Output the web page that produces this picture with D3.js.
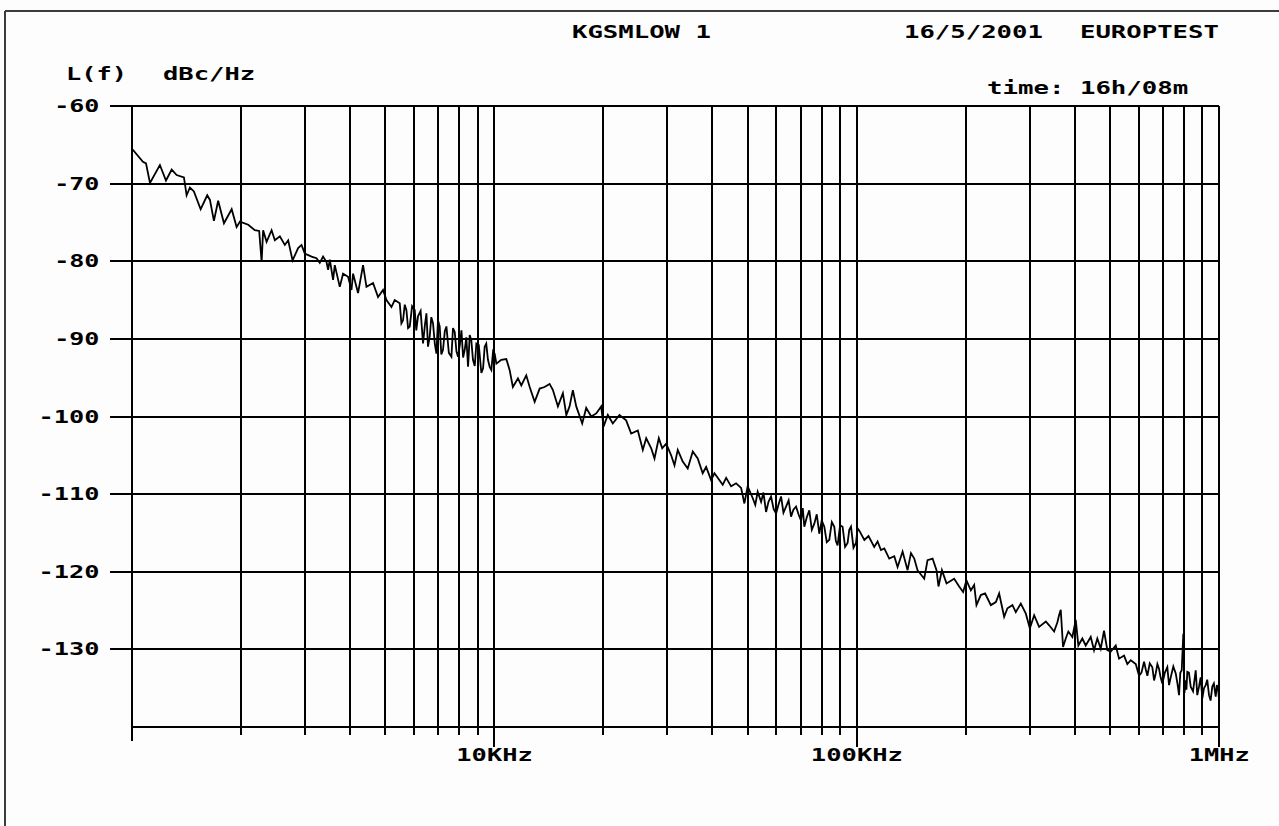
<!DOCTYPE html>
<html>
<head>
<meta charset="utf-8">
<script src="https://cdn.jsdelivr.net/npm/d3@7"></script>
<style>
  html, body { margin: 0; padding: 0; background: #fdfdfd; }
  svg { display: block; }
  text { font-family: "DejaVu Sans Mono", "Liberation Mono", monospace; font-weight: bold; fill: #000; }
</style>
</head>
<body>
<svg id="chart" width="1279" height="826"></svg>
<script>
// ---- Data ----
const freqKHz = [
  1.004, 1.072, 1.093, 1.121, 1.194, 1.241, 1.287, 1.328, 1.391, 1.415,
  1.445, 1.482, 1.547, 1.613, 1.641, 1.683, 1.729, 1.794, 1.884, 1.944,
  1.985, 2.093, 2.183, 2.244, 2.279, 2.301, 2.352, 2.428, 2.479, 2.559,
  2.641, 2.698, 2.774, 2.874, 2.937, 2.999, 3.130, 3.230, 3.298, 3.368,
  3.442, 3.477, 3.515, 3.589, 3.628, 3.745, 3.824, 3.948, 4.034, 4.075,
  4.206, 4.342, 4.437, 4.627, 4.776, 4.930, 5.038, 5.200, 5.310,
  5.482, 5.598, 5.720, 5.842, 6.030, 6.157, 6.357, 6.495, 6.632, 6.773,
  6.921, 7.067, 7.217, 7.375, 7.613, 7.775, 7.940, 8.114, 8.285, 8.461,
  8.551, 8.730, 8.921, 9.209, 9.404, 9.603, 9.813, 10.02, 10.13, 10.45,
  10.79, 11.02, 11.25, 11.62, 11.87, 12.25, 12.52, 12.92, 13.34, 13.76,
  14.21, 14.51, 14.98, 15.46, 15.80, 16.13, 16.47, 16.83, 17.48, 17.93,
  18.51, 19.11, 19.72, 20.01, 20.57, 21.23, 22.15, 23.11, 23.86,
  24.89, 25.69, 26.25, 27.10, 27.67, 28.44, 29.06, 29.81, 30.76, 31.42,
  32.08, 33.11, 34.18, 35.29, 36.42, 37.59, 38.42, 39.66, 40.50, 41.35,
  42.69, 43.63, 45.03, 46.48, 47.98, 48.99, 50.03, 51.64, 53.31, 54.48,
  56.23, 58.04, 59.92, 61.85, 63.84, 65.90, 68.03, 70.21, 71.70, 74.01,
  76.40, 78.86, 81.41, 84.03, 86.74, 88.58, 91.44, 94.39, 96.45, 99.56,
  101.7, 105.0, 107.8, 111.8, 114.2, 116.7, 119.2, 123.0, 127.0, 129.7,
  133.9, 138.2, 141.2, 144.2, 147.2, 153.6, 156.9, 162.0, 166.1, 168.2,
  171.9, 177.0, 185.8, 191.8, 196.7, 200.9, 206.6, 211.0, 214.1, 220.1,
  226.2, 234.6, 242.2, 247.3, 255.3, 260.7, 269.1, 274.9, 283.8, 293.0,
  300.6, 308.9, 318.8, 332.7, 339.8, 350.7, 358.1, 361.9, 365.8, 371.2,
  377.6, 383.9, 393.8, 402.4, 409.1, 419.6, 428.7, 442.6, 452.0, 461.5,
  471.6, 481.6, 491.8, 502.5, 518.8, 529.8, 547.0, 558.5, 570.8, 589.2,
  601.7, 621.1, 634.3, 654.6, 669.0, 683.1, 697.6, 720.1, 735.8, 759.6,
  775.7, 789.1, 797.1, 809.3, 817.5, 835.4, 862.4, 880.7, 899.4, 919.0,
  938.5, 958.3, 979.1, 995.4
];
const levelDb = [
  -65.6, -67.2, -67.4, -69.9, -67.6, -69.6, -68.2, -68.9, -69.2, -71.5,
  -70.5, -71.0, -73.3, -71.5, -72.1, -74.8, -72.2, -75.1, -73.3, -75.6,
  -74.9, -75.3, -76.0, -76.1, -80.1, -76.0, -77.5, -76.0, -77.3, -76.8,
  -77.9, -77.3, -79.9, -78.3, -77.9, -79.0, -79.4, -79.6, -80.2, -79.4,
  -80.1, -81.1, -79.8, -82.4, -80.5, -83.3, -81.6, -82.0, -83.7, -81.6,
  -84.1, -80.5, -83.3, -82.8, -84.6, -83.7, -85.0, -85.9, -85.0,
  -85.4, -87.6, -86.3, -88.4, -86.3, -87.1, -90.6, -86.7, -89.7, -88.0,
  -91.9, -88.4, -91.4, -88.4, -92.3, -89.1, -92.3, -88.9, -91.4, -93.6,
  -89.5, -92.7, -90.6, -94.4, -91.0, -92.7, -94.0, -91.9, -93.2, -92.7,
  -92.6, -94.0, -96.2, -95.1, -96.0, -94.7, -96.2, -98.1, -96.4, -96.2,
  -95.8, -96.6, -98.7, -97.0, -99.8, -98.7, -96.6, -98.7, -100.9, -98.9,
  -100.0, -99.6, -98.7, -101.3, -99.8, -100.9, -99.8, -100.5, -102.2,
  -101.8, -104.3, -102.8, -104.1, -105.4, -102.8, -104.1, -103.5, -105.0, -106.3,
  -104.3, -105.8, -106.7, -104.5, -105.4, -107.3, -106.5, -108.2, -107.3, -107.9,
  -108.8, -107.9, -109.0, -108.6, -109.2, -111.2, -109.0, -110.5, -109.7, -111.0,
  -112.3, -110.3, -112.5, -110.3, -111.6, -112.9, -111.6, -113.4, -114.2, -112.1,
  -113.8, -115.1, -114.2, -115.9, -114.2, -116.6, -114.2, -116.3, -114.2, -116.3,
  -114.7, -115.9, -115.4, -116.8, -116.1, -117.2, -117.0, -118.3, -118.0, -119.4,
  -117.4, -119.8, -117.6, -118.3, -119.8, -120.9, -118.5, -118.3, -119.8, -121.9,
  -119.8, -121.5, -120.9, -121.9, -122.6, -121.1, -122.4, -121.7, -124.3, -123.0,
  -122.8, -124.3, -123.9, -122.8, -125.8, -124.7, -124.3, -125.2, -124.1, -125.4,
  -127.3, -125.6, -127.1, -126.4, -126.9, -127.7, -126.5, -125.6, -124.9, -129.7,
  -128.6, -127.7, -128.4, -126.2, -129.5, -128.6, -129.5, -128.4, -130.1, -128.6,
  -129.9, -127.6, -130.1, -130.3, -129.5, -131.2, -130.8, -131.9, -131.4, -131.9,
  -133.4, -131.6, -133.4, -132.3, -133.1, -132.5, -134.4, -132.3, -133.6, -133.1,
  -135.9, -132.7, -128.0, -134.0, -132.9, -134.8, -132.7, -134.8, -136.3, -134.6,
  -135.9, -134.8, -136.1, -135.3
];
// extra samples read in the dense (blackened) stretches of the trace
const denseFreqKHz = [
  5.54, 5.66, 5.78, 5.93, 6.09, 6.26, 6.43, 6.56, 6.70, 6.85,
  6.99, 7.14, 7.30, 7.49, 7.69, 7.86, 8.03, 8.20, 8.37, 8.50,
  8.64, 8.83, 9.06, 9.31, 9.50, 9.71, 9.92,
  52.5, 55.3, 57.1, 59.0, 60.9, 62.8, 64.9, 66.9, 69.1, 71.0, 72.8,
  75.2, 77.6, 80.1, 82.7, 85.4, 87.6, 90.0, 92.9, 95.4, 98.0, 100.6,
  611, 628, 644, 662, 676, 690, 709, 728, 748, 768,
  782, 803, 813, 826, 848, 871, 890, 909, 928, 948,
  968, 987, 999
];
const denseDb = [
  -88.0, -85.6, -88.6, -85.8, -88.9, -86.4, -88.3, -91.0, -87.2, -90.6,
  -87.6, -92.0, -89.0, -91.8, -88.6, -91.6, -90.8, -92.4, -89.8, -92.0,
  -90.2, -93.5, -90.8, -93.8, -90.6, -93.6, -91.6,
  -111.4, -109.8, -111.0, -111.9, -111.3, -112.4, -110.8, -112.0, -112.6, -111.8, -113.0,
  -114.6, -112.6, -113.4, -116.2, -113.6, -116.0, -114.0, -116.8, -114.6, -116.9, -114.4,
  -133.0, -132.6, -131.8, -134.0, -131.9, -133.6, -133.0, -134.6, -132.2, -134.4,
  -133.0, -135.6, -135.2, -133.0, -135.4, -135.9, -133.6, -135.0, -133.9, -136.6,
  -134.4, -134.6, -136.2
];
const yTickValues = [-60, -70, -80, -90, -100, -110, -120, -130];
const xLabelFreqs = [10000, 100000, 1000000];
const xLabelTexts = ["10KHz", "100KHz", "1MHz"];
const titleText = "KGSMLOW 1";
const dateText = "16/5/2001";
const siteText = "EUROPTEST";
const timeText = "time: 16h/08m";
const yUnitLeft = "L(f)";
const yUnitRight = "dBc/Hz";

// ---- Layout ----
const svg = d3.select("#chart");
const pLeft = 132, pRight = 1219, pTop = 106, pBottom = 727;
const x = d3.scaleLog().domain([1000, 1000000]).range([pLeft, pRight]);
const y = d3.scaleLinear().domain([-140, -60]).range([pBottom, pTop]);
const CHAR = 15.6;

function label(str, xStart, yBase) {
  return svg.append("text")
    .attr("x", xStart).attr("y", yBase)
    .attr("font-size", 17)
    .attr("textLength", str.length * CHAR - 1.5)
    .attr("lengthAdjust", "spacingAndGlyphs")
    .text(str);
}

// outer frame (top and left edges)
svg.append("line").attr("x1", 5).attr("x2", 1279).attr("y1", 11).attr("y2", 11)
  .attr("stroke", "#3c3c3c").attr("stroke-width", 2);
svg.append("line").attr("x1", 5).attr("x2", 5).attr("y1", 11).attr("y2", 826)
  .attr("stroke", "#3c3c3c").attr("stroke-width", 2);

const grid = svg.append("g").attr("stroke", "#000").attr("stroke-width", 2)
  .attr("shape-rendering", "crispEdges");

// horizontal grid + y ticks
yTickValues.forEach(v => {
  grid.append("line").attr("x1", 110).attr("x2", pRight)
    .attr("y1", y(v)).attr("y2", y(v));
});
// bottom axis line
grid.append("line").attr("x1", pLeft).attr("x2", pRight)
  .attr("y1", y(-140)).attr("y2", y(-140));

// vertical grid + x ticks
const xGridVals = [];
[1000, 10000, 100000].forEach(dec => {
  for (let m = 1; m <= 9; m++) xGridVals.push(dec * m);
});
xGridVals.push(1000000);
xGridVals.forEach(f => {
  let ext = 8;
  if (f === 1000) ext = 14;
  if (xLabelFreqs.includes(f)) ext = 20;
  grid.append("line").attr("x1", x(f)).attr("x2", x(f))
    .attr("y1", pTop).attr("y2", pBottom + ext);
});

// y tick labels
yTickValues.forEach(v => {
  const s = String(v);
  label(s, 101 - s.length * CHAR, y(v) + 6);
});

// x labels
xLabelFreqs.forEach((f, i) => {
  const s = xLabelTexts[i];
  label(s, x(f) - (s.length * CHAR) / 2 + 1, 761);
});

// header texts
label(titleText, 572, 38);
label(dateText, 904, 38);
label(siteText, 1080, 38);
label(timeText, 987, 94);
label(yUnitLeft, 66, 80);
label(yUnitRight, 163, 80);

// data trace
const data = freqKHz.map((f, i) => ({ f: f * 1000, v: levelDb[i] }))
  .concat(denseFreqKHz.map((f, i) => ({ f: f * 1000, v: denseDb[i] })))
  .sort((a, b) => a.f - b.f);
const line = d3.line().x(d => x(d.f)).y(d => y(d.v));
svg.append("path").datum(data)
  .attr("d", line)
  .attr("fill", "none")
  .attr("stroke", "#000")
  .attr("stroke-width", 1.8)
  .attr("stroke-linejoin", "miter");
</script>
</body>
</html>
